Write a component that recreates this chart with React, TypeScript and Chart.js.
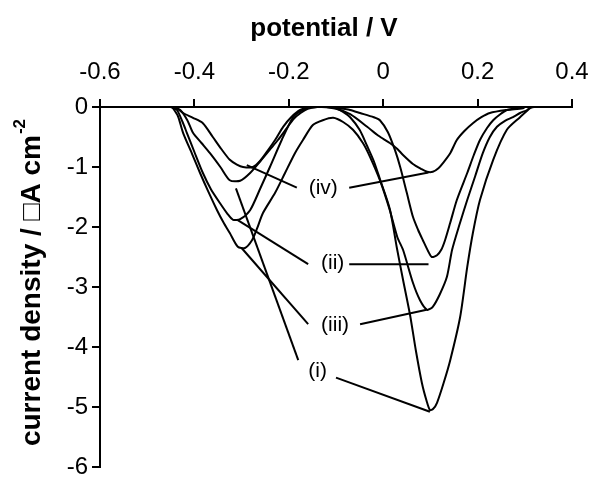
import React, { useEffect, useRef } from 'react';
import { Chart, registerables } from 'chart.js';

Chart.register(...registerables);

// ---- data (potential in V, current density) ----
const potentialI = [-0.445,-0.43,-0.415,-0.403,-0.385,-0.367,-0.345,-0.325,-0.303,-0.282,-0.26,-0.24,-0.223,-0.205,-0.19,-0.175,-0.16,-0.14,-0.12,-0.1,-0.085,-0.07,-0.05,-0.034,-0.02,-0.007,0.014,0.029,0.042,0.057,0.069,0.082,0.092,0.099,0.106,0.114,0.128,0.142,0.163,0.178,0.19,0.205,0.233,0.262,0.29,0.311,0.318];
const currentI = [0,-0.05,-0.22,-0.43,-0.6,-0.77,-1.0,-1.22,-1.23,-1.1,-0.9,-0.71,-0.55,-0.36,-0.2,-0.1,-0.03,0,0,-0.02,-0.08,-0.17,-0.38,-0.65,-0.9,-1.2,-1.7,-2.35,-2.88,-3.47,-4.05,-4.6,-4.9,-5.05,-5.03,-4.93,-4.6,-4.22,-3.5,-2.67,-2.1,-1.55,-0.88,-0.38,-0.17,-0.02,0];

const potentialII = [-0.45,-0.437,-0.425,-0.416,-0.4,-0.382,-0.365,-0.346,-0.33,-0.318,-0.303,-0.282,-0.26,-0.24,-0.215,-0.191,-0.175,-0.161,-0.14,-0.12,-0.1,-0.085,-0.07,-0.049,-0.02,-0.007,0.01,0.025,0.036,0.05,0.063,0.074,0.084,0.095,0.103,0.114,0.123,0.131,0.142,0.156,0.178,0.192,0.205,0.22,0.233,0.248,0.262,0.28,0.292];
const currentII = [0,-0.05,-0.25,-0.43,-0.75,-1.1,-1.37,-1.6,-1.78,-1.88,-1.87,-1.72,-1.35,-1.0,-0.55,-0.17,-0.07,-0.02,0,0,-0.01,-0.03,-0.05,-0.1,-0.17,-0.22,-0.42,-0.72,-1.0,-1.43,-1.83,-2.05,-2.22,-2.4,-2.5,-2.47,-2.38,-2.22,-1.93,-1.55,-1.1,-0.8,-0.55,-0.35,-0.22,-0.12,-0.05,-0.02,0];

const potentialIII = [-0.447,-0.435,-0.424,-0.405,-0.388,-0.37,-0.352,-0.338,-0.325,-0.308,-0.293,-0.278,-0.267,-0.255,-0.229,-0.208,-0.187,-0.17,-0.149,-0.128,-0.106,-0.085,-0.064,-0.043,-0.028,-0.007,0.014,0.03,0.042,0.063,0.078,0.093,0.105,0.12,0.135,0.146,0.162,0.178,0.195,0.211,0.226,0.241,0.258,0.275,0.29,0.305,0.312];
const currentIII = [0,-0.15,-0.43,-0.78,-1.1,-1.42,-1.72,-1.93,-2.1,-2.33,-2.35,-2.22,-2.02,-1.77,-1.43,-1.1,-0.77,-0.55,-0.3,-0.22,-0.18,-0.25,-0.38,-0.6,-0.83,-1.22,-1.72,-2.17,-2.38,-2.93,-3.22,-3.38,-3.33,-3.12,-2.83,-2.38,-1.95,-1.55,-1.15,-0.77,-0.5,-0.33,-0.23,-0.17,-0.1,-0.05,0];

const potentialIV = [-0.44,-0.424,-0.403,-0.382,-0.361,-0.343,-0.325,-0.31,-0.297,-0.276,-0.261,-0.245,-0.229,-0.212,-0.195,-0.176,-0.155,-0.13,-0.1,-0.07,-0.034,-0.01,0.014,0.03,0.042,0.063,0.08,0.093,0.105,0.117,0.127,0.142,0.156,0.172,0.19,0.208,0.226,0.262,0.296,0.3];
const currentIV = [0,-0.1,-0.18,-0.27,-0.5,-0.7,-0.88,-0.96,-1.0,-1.0,-0.9,-0.73,-0.55,-0.33,-0.17,-0.05,0,0,-0.03,-0.12,-0.33,-0.48,-0.6,-0.7,-0.8,-0.95,-1.03,-1.08,-1.08,-1.02,-0.93,-0.77,-0.55,-0.4,-0.27,-0.17,-0.1,-0.05,-0.02,0];

// ---- ticks ----
const xTickValues = [-0.6, -0.4, -0.2, 0, 0.2, 0.4];
const xTickLabels = ['-0.6', '-0.4', '-0.2', '0', '0.2', '0.4'];
const yTickValues = [0, -1, -2, -3, -4, -5, -6];
const yTickLabels = ['0', '-1', '-2', '-3', '-4', '-5', '-6'];

// ---- curve labels (text, data anchor) and leader lines (data coords) ----
const curveLabels = [
  { text: '(iv)', x: -0.127, y: -1.355 },
  { text: '(ii)', x: -0.107, y: -2.6 },
  { text: '(iii)', x: -0.102, y: -3.63 },
  { text: '(i)', x: -0.139, y: -4.41 },
];
const leaderLines = [
  [[-0.289, -0.97], [-0.183, -1.345]],
  [[-0.072, -1.345], [0.096, -1.09]],
  [[-0.159, -2.62], [-0.309, -1.88]],
  [[-0.072, -2.62], [0.096, -2.62]],
  [[-0.159, -3.62], [-0.3, -2.35]],
  [[-0.049, -3.62], [0.092, -3.38]],
  [[-0.18, -4.22], [-0.312, -1.355]],
  [[-0.1, -4.51], [0.099, -5.08]],
];

const FONT = '"Liberation Sans", Arial, Helvetica, sans-serif';
const TICK_SIZE = 24;
const TITLE_SIZE = 26;
const YTITLE_SIZE = 28;
const LABEL_SIZE = 21;

function drawText(ctx: CanvasRenderingContext2D, t: string, x: number, y: number, align: CanvasTextAlign) {
  ctx.textAlign = align;
  ctx.fillText(t, x, y);
}

const overlayPlugin = {
  id: 'overlay',
  afterDraw(chart: any) {
    const ctx: CanvasRenderingContext2D = chart.ctx;
    const xs = chart.scales.x;
    const ys = chart.scales.y;
    ctx.save();
    ctx.fillStyle = '#000';
    ctx.strokeStyle = '#000';
    ctx.textBaseline = 'middle';

    // tick labels
    ctx.font = `${TICK_SIZE}px ${FONT}`;
    xTickValues.forEach((v, i) => drawText(ctx, xTickLabels[i], xs.getPixelForValue(v), 72, 'center'));
    yTickValues.forEach((v, i) => drawText(ctx, yTickLabels[i], 88, ys.getPixelForValue(v), 'right'));

    // x title
    ctx.font = `bold ${TITLE_SIZE}px ${FONT}`;
    drawText(ctx, 'potential / V', 324, 29, 'center');

    // y title (rotated, with superscript)
    const main = 'current density / \u25A1A cm';
    const sup = '-2';
    const supSize = Math.round(YTITLE_SIZE * 0.6);
    ctx.font = `bold ${YTITLE_SIZE}px ${FONT}`;
    const wMain = ctx.measureText(main).width;
    ctx.font = `bold ${supSize}px ${FONT}`;
    const wSup = ctx.measureText(sup).width;
    const total = wMain + wSup;
    ctx.save();
    ctx.translate(32, 283);
    ctx.rotate(-Math.PI / 2);
    ctx.textAlign = 'left';
    ctx.font = `bold ${YTITLE_SIZE}px ${FONT}`;
    ctx.fillText(main, -total / 2, 0);
    ctx.font = `bold ${supSize}px ${FONT}`;
    ctx.fillText(sup, -total / 2 + wMain + 1, -YTITLE_SIZE * 0.42);
    ctx.restore();

    // leader lines
    ctx.lineWidth = 2;
    leaderLines.forEach(([a, b]) => {
      ctx.beginPath();
      ctx.moveTo(xs.getPixelForValue(a[0]), ys.getPixelForValue(a[1]));
      ctx.lineTo(xs.getPixelForValue(b[0]), ys.getPixelForValue(b[1]));
      ctx.stroke();
    });

    // curve labels
    ctx.font = `${LABEL_SIZE}px ${FONT}`;
    curveLabels.forEach((l) => drawText(ctx, l.text, xs.getPixelForValue(l.x), ys.getPixelForValue(l.y), 'center'));
    ctx.restore();
  },
};

function toPoints(xs: number[], ys: number[]) {
  return xs.map((x, i) => ({ x, y: ys[i] }));
}

export default function App() {
  const ref = useRef<HTMLCanvasElement | null>(null);
  useEffect(() => {
    if (!ref.current) return;
    const series = [
      { label: '(i)', data: toPoints(potentialI, currentI) },
      { label: '(ii)', data: toPoints(potentialII, currentII) },
      { label: '(iii)', data: toPoints(potentialIII, currentIII) },
      { label: '(iv)', data: toPoints(potentialIV, currentIV) },
    ];
    const axisCommon = {
      type: 'linear' as const,
      ticks: { display: false },
      grid: { drawOnChartArea: false, drawTicks: true, tickLength: 8, color: '#000', lineWidth: 2 },
      border: { display: true, color: '#000', width: 2 },
    };
    const chart = new Chart(ref.current, {
      type: 'scatter',
      data: {
        datasets: series.map((s) => ({
          label: s.label,
          data: s.data,
          showLine: true,
          borderColor: '#000',
          backgroundColor: '#000',
          borderWidth: 2,
          pointRadius: 0,
          tension: 0.25,
          fill: false,
        })),
      },
      options: {
        responsive: false,
        animation: false,
        events: [],
        layout: { padding: { left: 92, top: 99, right: 17, bottom: 10 } },
        plugins: { legend: { display: false }, tooltip: { enabled: false }, title: { display: false } },
        scales: {
          x: {
            ...axisCommon,
            position: 'top',
            min: -0.6,
            max: 0.4,
            afterBuildTicks: (s: any) => { s.ticks = xTickValues.map((v) => ({ value: v })); },
          },
          y: {
            ...axisCommon,
            position: 'left',
            min: -6,
            max: 0,
            afterBuildTicks: (s: any) => { s.ticks = yTickValues.map((v) => ({ value: v })); },
          },
        },
      },
      plugins: [overlayPlugin],
    });
    return () => chart.destroy();
  }, []);
  return (
    <canvas
      ref={ref}
      width={589}
      height={477}
      style={{ position: 'absolute', left: 0, top: 0, width: 589, height: 477, background: '#fff' }}
    />
  );
}
